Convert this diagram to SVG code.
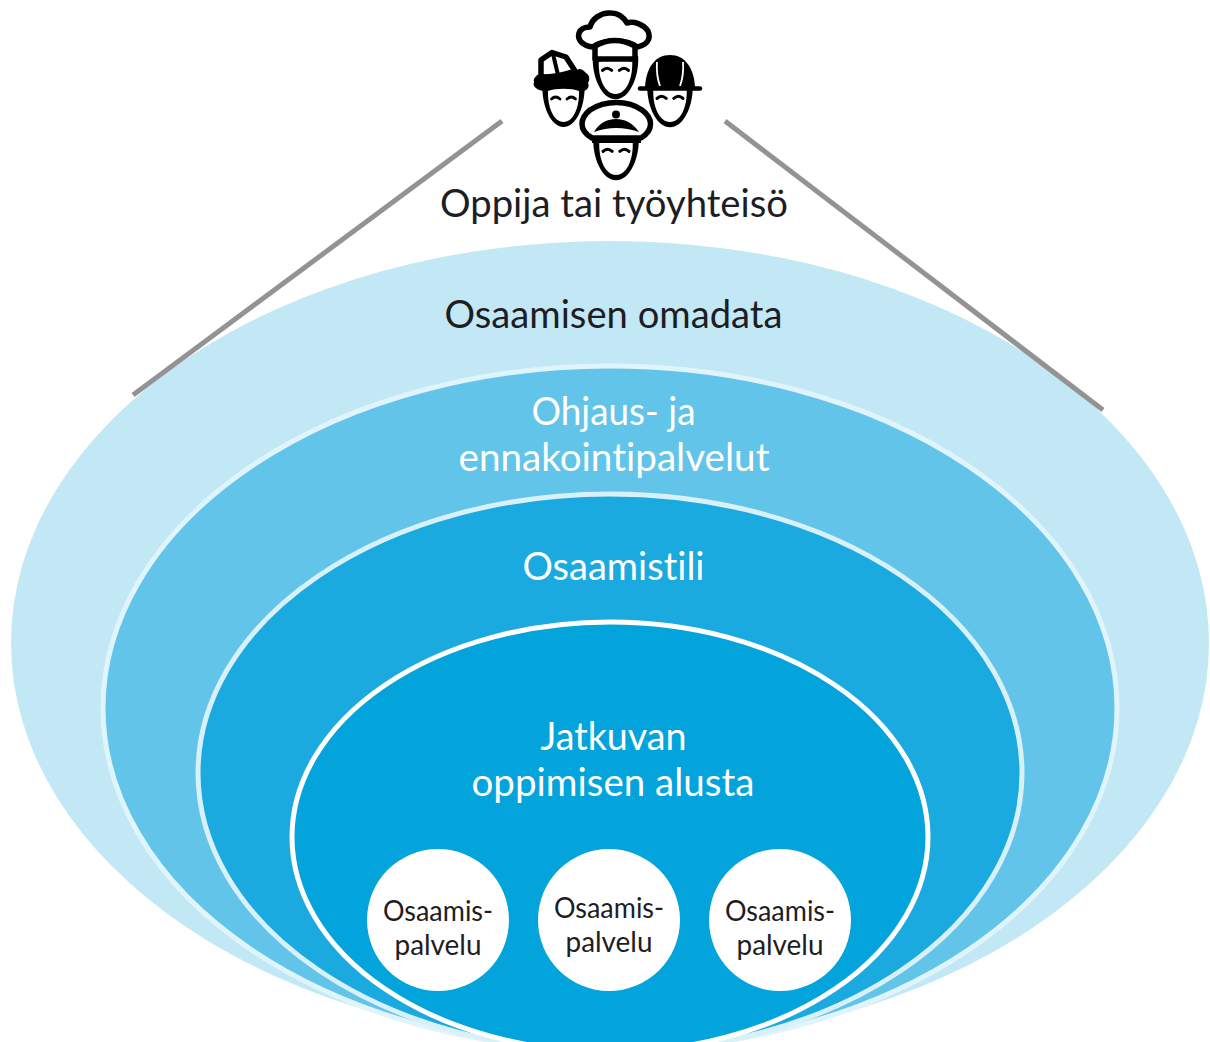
<svg xmlns="http://www.w3.org/2000/svg" width="1210" height="1042" viewBox="0 0 1210 1042">
<style>
text{font-family:"Lato","Liberation Sans",sans-serif;text-anchor:middle;font-variant-ligatures:none}
.big{font-size:38px}
.small{font-size:29px;fill:#1d1d23}
.dark{fill:#1d1d23}
.light{fill:#fff}
.line{fill:none;stroke:#939393;stroke-width:5}
.ic{fill:#fff;stroke:#000;stroke-width:5.500;stroke-linejoin:round;stroke-linecap:round}
.blk{fill:#000;stroke:none}
.wht{fill:#fff;stroke:none}
.ey{fill:none;stroke:#000;stroke-width:2.800;stroke-linecap:round}
.svc{fill:#fff}
</style>
<defs>
<g id="face">
<path class="blk" d="M-21,-2 C-22,18 -13,40 0,40 C13,40 22,18 21,-2 Z"/>
<path class="wht" d="M-15.500,4 C-16,20 -10,35 0,35 C10,35 16,20 15.500,4 C8,1 -8,1 -15.500,4 Z"/>
<path class="ey" d="M-12,12 Q-8,8 -3.500,12 M3.500,12 Q8,8 12,12"/>
</g>
</defs>
<rect width="1210" height="1042" fill="#fff"/>
<g id="ring-omadata"><ellipse cx="610" cy="643" rx="599" ry="402" fill="#c2e8f6"/></g>
<g id="ring-ohjaus"><ellipse cx="610" cy="708" rx="507" ry="342" fill="#62c4e8" stroke="#e0f4fb" stroke-width="5"/></g>
<g id="ring-osaamistili"><ellipse cx="610" cy="773" rx="412" ry="279" fill="#1aaae0" stroke="#d8f0f8" stroke-width="5"/></g>
<g id="ring-alusta"><ellipse cx="610" cy="837" rx="318" ry="215" fill="#03a4dc" stroke="#fff" stroke-width="5"/></g>
<g id="connectors">
<line class="line" x1="133" y1="395" x2="502" y2="121"/>
<line class="line" x1="725" y1="121" x2="1103" y2="410"/>
</g>
<g id="icon-workers">
<g id="chef">
<use href="#face" transform="translate(615.500,58) scale(1.080,1.030)"/>
<path class="ic" d="M593,47 C583,46 577,40 579,33 C581,28 586,27 590,27 C592,19 601,12 611,13 C619,13 624,18 627,23 C634,21 643,24 648,31 C651,38 648,45 637,47 C628,39 603,39 593,47 Z"/>
<path class="ic" d="M595,59 L595,46 Q614.500,35 635,46 L635,59 Z"/>
</g>
<g id="builder">
<use href="#face" x="563.500" y="87"/>
<path class="blk" d="M534,82 C533,78 536,77 537,75 C541,74 545,77 553,75 C562,75 572,72 577,70 C581,67 584,71 586,73 C590,75 590,80 588,83 C590,87 587,90 584,91 Q563,85 543,91 C538,90 532,87 534,82 Z"/>
<path class="ic" d="M541,77 L541,60 L552,52.500 L566,57 L575,71 Q558,77 541,77 Z" stroke-width="4"/>
<line x1="553" y1="54" x2="558" y2="75" stroke="#000" stroke-width="4"/>
</g>
<g id="hardhat">
<use href="#face" transform="translate(670,86) scale(1.080,1.030)"/>
<path class="blk" d="M645,87 C646,68 655,55 670,55 C685,55 694,68 695,87 Z"/>
<path d="M657,62 Q656,75 660,86 M683,62 Q684,75 680,86" stroke="#fff" stroke-width="1.800" fill="none"/>
<line x1="640" y1="88.500" x2="700" y2="88.500" stroke="#000" stroke-width="4.500" stroke-linecap="round"/>
</g>
<g id="officer">
<use href="#face" transform="translate(616,139) scale(1.080,1.030)"/>
<path class="ic" d="M592,138 C578,130 580,118 590,110 C605,100 628,100 642,110 C653,118 654,130 641,138 Z"/>
<path class="blk" d="M594,132 C600,122 608,119 616,119 C624,119 632,122 639,132 Q616,124 594,132 Z"/>
<rect class="blk" x="592" y="137" width="49" height="6"/>
<circle cx="616" cy="114.500" r="4" fill="#000"/>
</g>
</g>
<g id="label-oppija"><text class="big dark" x="614" y="217" textLength="348" lengthAdjust="spacingAndGlyphs">Oppija tai työyhteisö</text></g>
<g id="label-omadata"><text class="big dark" x="613.500" y="328" textLength="338" lengthAdjust="spacingAndGlyphs">Osaamisen omadata</text></g>
<g id="label-ohjaus">
<text class="big light" x="613.500" y="425" textLength="164" lengthAdjust="spacingAndGlyphs">Ohjaus- ja</text>
<text class="big light" x="614" y="471" textLength="311" lengthAdjust="spacingAndGlyphs">ennakointipalvelut</text>
</g>
<g id="label-osaamistili"><text class="big light" x="613.500" y="580" textLength="182" lengthAdjust="spacingAndGlyphs">Osaamistili</text></g>
<g id="label-alusta">
<text class="big light" x="613.500" y="750" textLength="146" lengthAdjust="spacingAndGlyphs">Jatkuvan</text>
<text class="big light" x="613" y="796" textLength="283" lengthAdjust="spacingAndGlyphs">oppimisen alusta</text>
</g>
<g id="service-1">
<circle class="svc" cx="438" cy="920" r="71"/>
<text class="small" x="438" y="921" textLength="110" lengthAdjust="spacingAndGlyphs">Osaamis-</text>
<text class="small" x="438" y="955" textLength="87" lengthAdjust="spacingAndGlyphs">palvelu</text>
</g>
<g id="service-2">
<circle class="svc" cx="609" cy="920" r="71"/>
<text class="small" x="609" y="918" textLength="110" lengthAdjust="spacingAndGlyphs">Osaamis-</text>
<text class="small" x="609" y="952" textLength="87" lengthAdjust="spacingAndGlyphs">palvelu</text>
</g>
<g id="service-3">
<circle class="svc" cx="780" cy="920" r="71"/>
<text class="small" x="780" y="921" textLength="110" lengthAdjust="spacingAndGlyphs">Osaamis-</text>
<text class="small" x="780" y="955" textLength="87" lengthAdjust="spacingAndGlyphs">palvelu</text>
</g>
</svg>
